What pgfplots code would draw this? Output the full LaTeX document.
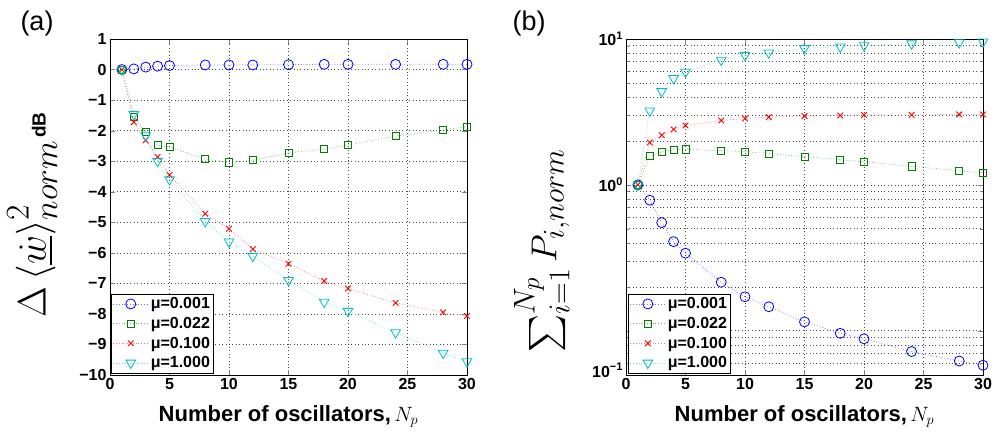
\documentclass[border=0pt]{standalone}
\usepackage{amsmath}
\usepackage{graphicx}
\usepackage{fontspec}
\setmainfont{Liberation Sans}
\usepackage{pgfplots}
\pgfplotsset{compat=1.18}

\definecolor{mblue}{rgb}{0,0,1}
\definecolor{mgreen}{rgb}{0,0.5,0}
\definecolor{mred}{rgb}{1,0,0}
\definecolor{mcyan}{rgb}{0,0.75,0.75}

\pgfplotsset{
  mystyle/.style={
    scale only axis, width=357pt, height=336pt,
    xmin=0, xmax=30, xtick={0,5,...,30},
    tick label style={font=\fontsize{16}{16}\selectfont\bfseries},
    /pgf/number format/assume math mode=true,
    tick align=inside, major tick length=5pt, minor tick length=3pt,
    xmajorgrids, ymajorgrids,
    grid style={dash pattern=on 0.8pt off 2.6pt, black!70, line width=0.6pt},
    axis line style={line width=0.8pt},
    legend cell align=left,
    legend style={font=\fontsize{16}{18}\selectfont\bfseries, draw=black, inner sep=1.5pt, row sep=3pt,
      anchor=south west},
    legend image code/.code={\draw[mark repeat=2,mark phase=2,#1] plot coordinates {(0cm,0cm) (0.62cm,0cm) (1.24cm,0cm)};},
    xlabel style={at={(axis description cs:0.5,-0.08)}, anchor=north, font=\fontsize{22}{26}\selectfont\bfseries},
  },
  sb/.style={mblue!55, dash pattern=on 0.8pt off 2pt, line width=0.7pt, mark=o, mark size=5pt, mark options={solid, draw=mblue, line width=0.8pt}},
  sg/.style={mgreen!55, dash pattern=on 0.8pt off 2pt, line width=0.7pt, mark=square, mark size=3.6pt, mark options={solid, draw=mgreen, line width=0.8pt}},
  sr/.style={mred!55, dash pattern=on 0.8pt off 2pt, line width=0.7pt, mark=x, mark size=4pt, mark options={solid, draw=mred, line width=0.9pt}},
  sc/.style={mcyan!55, dash pattern=on 0.8pt off 2pt, line width=0.7pt, mark=triangle, mark size=5.6pt, mark options={solid, draw=mcyan, line width=0.8pt, rotate=180}},
}

\begin{document}
\begin{tikzpicture}[x=1pt,y=1pt]
\useasboundingbox (0,0) rectangle (995,441);

\node[font=\fontsize{27}{27}\selectfont] at (37,417) {(a)};
\node[font=\fontsize{27}{27}\selectfont] at (529,417) {(b)};

% ---------- (a) ----------
\begin{axis}[mystyle, at={(110pt,66pt)}, anchor=south west,
  ymin=-10, ymax=1, ytick={-10,-9,...,1},
  yticklabels={−10,−9,−8,−7,−6,−5,−4,−3,−2,−1,0,1},
  xlabel={Number of oscillators,$\,N_p$},
  ylabel={\scalebox{1.6}{\Huge$\Delta\left\langle\underline{\dot{w}}\right\rangle^2_{norm}$}\ {\fontsize{19}{19}\selectfont\bfseries dB}},
  ylabel style={at={(axis description cs:-0.218,0.476)}, anchor=center},
  legend style={at={(axis description cs:0.003,0.006)}},
]
\addplot[sb] coordinates {(1,0) (2,0.02) (3,0.08) (4,0.11) (5,0.13) (8,0.15) (10,0.15) (12,0.15) (15,0.16) (18,0.17) (20,0.17) (24,0.17) (28,0.17) (30,0.17)};
\addlegendentry{μ=0.001}
\addplot[sg] coordinates {(1,0) (2,-1.55) (3,-2.05) (4,-2.48) (5,-2.53) (8,-2.93) (10,-3.04) (12,-2.97) (15,-2.73) (18,-2.60) (20,-2.47) (24,-2.18) (28,-1.98) (30,-1.87)};
\addlegendentry{μ=0.022}
\addplot[sr] coordinates {(1,0) (2,-1.72) (3,-2.32) (4,-2.86) (5,-3.45) (8,-4.72) (10,-5.21) (12,-5.88) (15,-6.36) (18,-6.92) (20,-7.17) (24,-7.64) (28,-7.95) (30,-8.07)};
\addlegendentry{μ=0.100}
\addplot[sc] coordinates {(1,0) (2,-1.47) (3,-2.16) (4,-3.0) (5,-3.6) (8,-4.97) (10,-5.64) (12,-6.11) (15,-6.9) (18,-7.61) (20,-7.91) (24,-8.61) (28,-9.28) (30,-9.56)};
\addlegendentry{μ=1.000}
\end{axis}

% ---------- (b) ----------
\begin{axis}[mystyle, at={(626pt,66pt)}, anchor=south west,
  ymode=log, ymin=0.0497, ymax=10,
  ytick={0.1,1,10},
  yticklabels={,10\raisebox{0.75ex}{\fontsize{11}{11}\selectfont 0},10\raisebox{0.75ex}{\fontsize{11}{11}\selectfont 1}},
  extra y ticks={0.0535},
  extra y tick labels={10\raisebox{0.75ex}{\fontsize{11}{11}\selectfont −1}},
  extra y tick style={grid=none, major tick length=0pt},
  minor ytick={0.06,0.07,0.08,0.09,0.2,0.3,0.4,0.5,0.6,0.7,0.8,0.9,2,3,4,5,6,7,8,9},
  yminorgrids,
  minor grid style={dash pattern=on 0.8pt off 2.6pt, black!70, line width=0.6pt},
  xlabel={Number of oscillators,$\,N_p$},
  ylabel={\scalebox{1.45}{\Huge$\textstyle\sum\nolimits_{i=1}^{N_p} P_{i,norm}$}},
  ylabel style={at={(axis description cs:-0.236,0.37)}, anchor=center},
  legend style={at={(axis description cs:0.006,0.006)}},
]
\addplot[sb] coordinates {(1,1) (2,0.785) (3,0.551) (4,0.408) (5,0.34) (8,0.215) (10,0.171) (12,0.146) (15,0.115) (18,0.096) (20,0.088) (24,0.072) (28,0.062) (30,0.058)};
\addlegendentry{μ=0.001}
\addplot[sg] coordinates {(1,1) (2,1.58) (3,1.68) (4,1.74) (5,1.75) (8,1.72) (10,1.69) (12,1.64) (15,1.56) (18,1.49) (20,1.44) (24,1.34) (28,1.25) (30,1.21)};
\addlegendentry{μ=0.022}
\addplot[sr] coordinates {(1,1) (2,1.95) (3,2.19) (4,2.40) (5,2.55) (8,2.76) (10,2.85) (12,2.91) (15,2.96) (18,2.99) (20,3.01) (24,3.02) (28,3.04) (30,3.04)};
\addlegendentry{μ=0.100}
\addplot[sc] coordinates {(1,1) (2,3.22) (3,4.37) (4,5.37) (5,5.94) (8,7.18) (10,7.72) (12,8.05) (15,8.62) (18,8.85) (20,9.03) (24,9.29) (28,9.44) (30,9.58)};
\addlegendentry{μ=1.000}
\end{axis}
\end{tikzpicture}
\end{document}
